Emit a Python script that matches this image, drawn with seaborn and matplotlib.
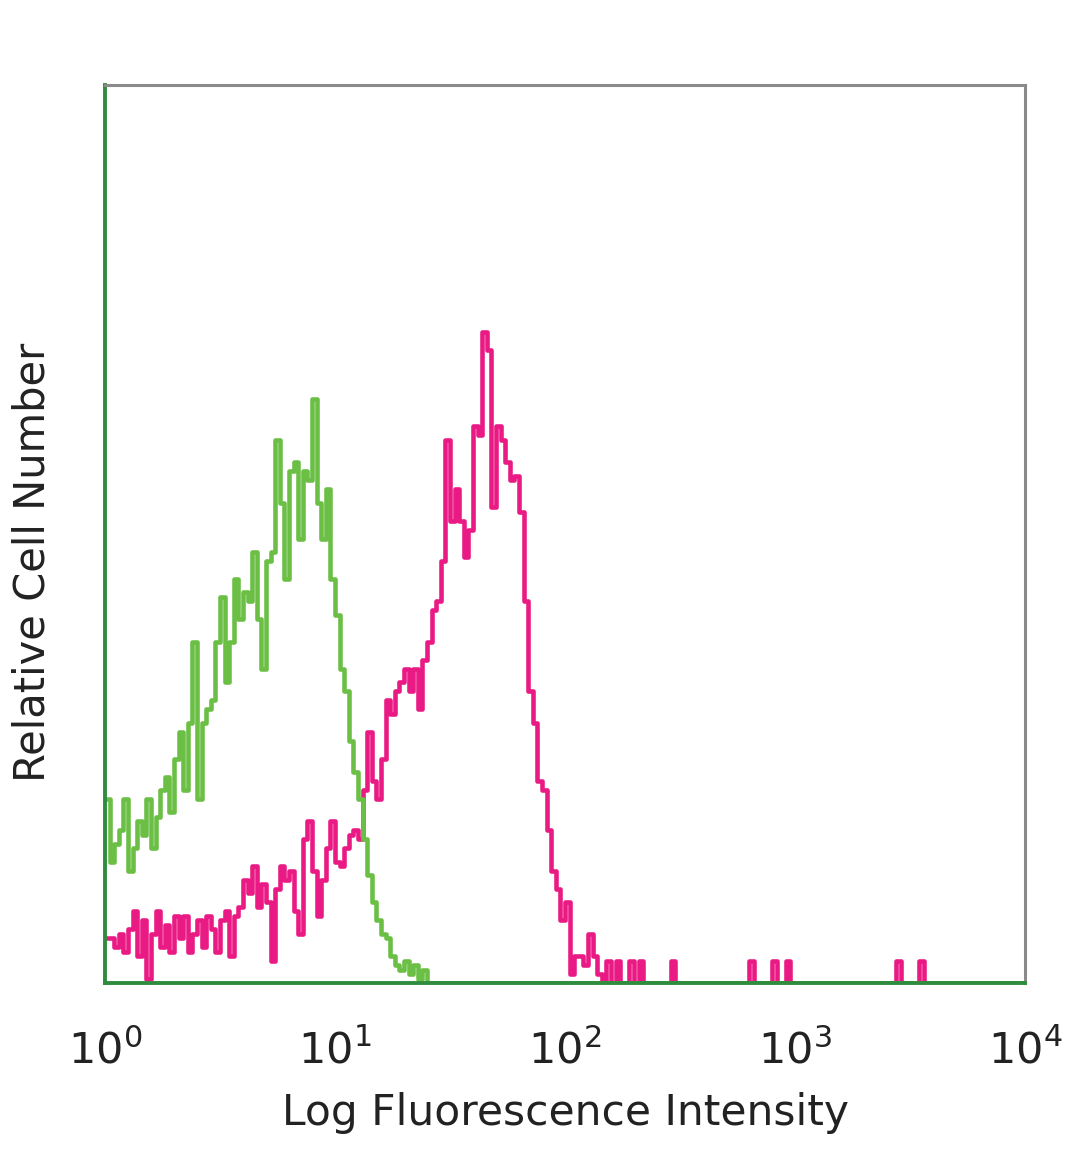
"""Flow cytometry overlay histogram: isotype control vs. stained sample."""

import matplotlib
matplotlib.use("Agg")
import matplotlib.pyplot as plt
import numpy as np
import seaborn as sns

# 200 log-spaced channels spanning four decades (10^0 .. 10^4)
N_CHANNELS = 200
DECADES = 4

# control (green), counts per channel starting at channel 0
control_counts = [
    41, 27, 31, 34, 41, 25, 30, 36, 33, 41,
    30, 37, 43, 46, 38, 50, 56, 43, 58, 76,
    41, 58, 61, 63, 76, 86, 67, 76, 90, 81,
    87, 85, 96, 81, 70, 94, 96, 121, 107, 90,
    114, 116, 99, 114, 112, 130, 107, 99, 110, 90,
    82, 70, 65, 54, 47, 41, 32, 24, 18, 14,
    11, 10, 6, 4, 3, 5, 2, 4, 1, 3,
]

# stained sample (magenta), counts per channel starting at channel 0
stained_counts = [
    10, 10, 8, 11, 7, 12, 16, 6, 14, 1,
    11, 16, 8, 13, 7, 15, 10, 15, 7, 11,
    14, 8, 15, 12, 7, 14, 16, 6, 15, 17,
    23, 20, 26, 17, 22, 18, 5, 21, 26, 23,
    25, 16, 11, 32, 36, 25, 15, 23, 30, 36,
    27, 26, 30, 33, 34, 32, 43, 56, 45, 41,
    50, 63, 60, 65, 67, 70, 65, 70, 61, 72,
    76, 83, 85, 94, 121, 103, 110, 103, 95, 101,
    124, 122, 145, 141, 106, 124, 121, 116, 112, 113,
    105, 85, 65, 58, 45, 43, 34, 25, 21, 14,
    18, 2, 6, 6, 4, 11, 6, 2, 0, 5,
]
# isolated bright events further out
stained_event_channels = [111, 114, 116, 123, 140, 145, 148, 172, 177]
stained_event_counts = [5, 5, 5, 5, 5, 5, 5, 5, 5]


def _full_counts(counts, extra_channels=(), extra_counts=()):
    full = np.zeros(N_CHANNELS)
    full[: len(counts)] = counts
    for ch, c in zip(extra_channels, extra_counts):
        full[ch] = c
    return full


def main() -> None:
    channel_values = 10 ** ((np.arange(N_CHANNELS) + 0.5) * DECADES / N_CHANNELS)
    control = _full_counts(control_counts)
    stained = _full_counts(stained_counts, stained_event_channels, stained_event_counts)

    sns.set_theme(style="white")
    plt.rcParams["font.family"] = ["DejaVu Sans"]

    fig = plt.figure(figsize=(10.8, 11.69), dpi=100)
    ax = fig.add_axes([0.0972, 0.1591, 0.852, 0.768])

    common = dict(bins=N_CHANNELS, binrange=(0, DECADES), log_scale=True,
                  element="step", fill=False, linewidth=3.3, ax=ax)
    sns.histplot(x=channel_values, weights=stained, color="#ea1a84", **common)
    sns.histplot(x=channel_values, weights=control, color="#6bbf45", **common)

    ax.set_xlim(1, 1e4)
    ax.set_ylim(0, 200)
    ax.set_xticks([1, 10, 100, 1000, 10000])
    ax.set_xticklabels([f"$10^{{{k}}}$" for k in range(5)])
    ax.minorticks_off()
    ax.set_yticks([])
    ax.tick_params(axis="x", length=0, pad=34, labelsize=31, colors="#222222")

    ax.set_xlabel("Log Fluorescence Intensity", fontsize=30.5, color="#222222", labelpad=14)
    ax.set_ylabel("Relative Cell Number", fontsize=30, color="#222222")
    ax.yaxis.set_label_coords(-0.056, 0.469)

    for side in ("top", "right"):
        ax.spines[side].set_color("#8a8a8a")
        ax.spines[side].set_linewidth(2.2)
    for side in ("left", "bottom"):
        ax.spines[side].set_color("#2f8c3e")
        ax.spines[side].set_linewidth(2.8)

    fig.savefig("out.png", dpi=100)
    plt.close(fig)


if __name__ == "__main__":
    main()
